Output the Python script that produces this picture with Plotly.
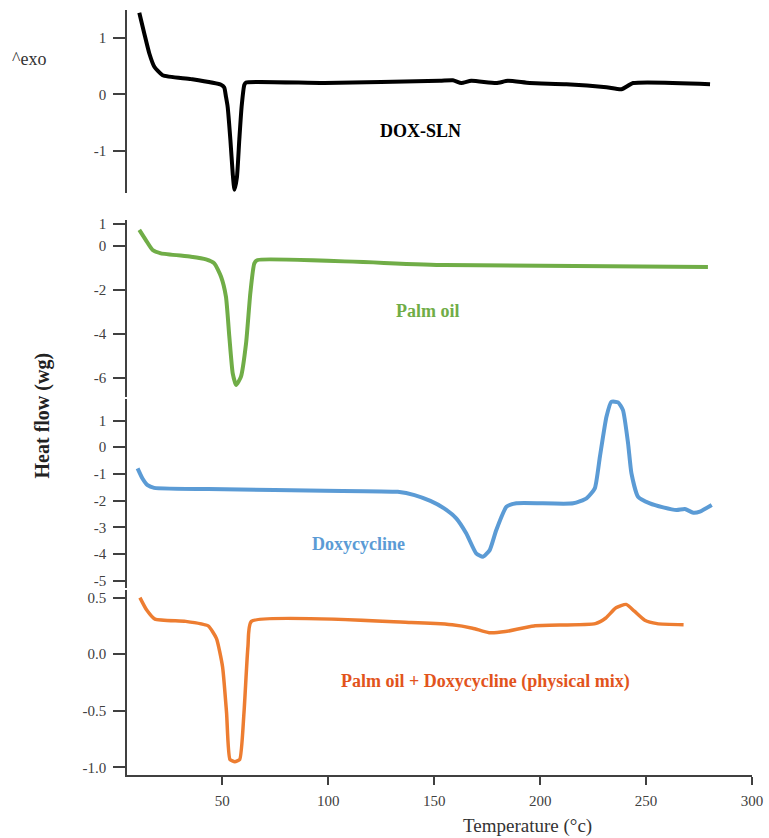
import plotly.graph_objects as go

# ---------------- data ----------------
dox_sln_x = [10.8, 13.1, 15.5, 17.9, 21.8, 35.2, 49.4, 50.9, 51.7, 52.5, 53.8, 54.9, 55.7,
             56.9, 58.0, 59.1, 60.4, 61.2, 98.2, 152.6, 158.8, 162.8, 167.5, 179.3, 184.8,
             195.1, 212.4, 231.3, 238.4, 243.9, 280.2]
dox_sln_y = [1.45, 1.09, 0.73, 0.49, 0.34, 0.27, 0.17, 0.12, -0.04, -0.22, -0.81, -1.41, -1.70,
             -1.47, -0.81, -0.22, 0.17, 0.21, 0.20, 0.24, 0.25, 0.20, 0.24, 0.20, 0.24,
             0.20, 0.18, 0.125, 0.09, 0.20, 0.18]

palm_x = [10.8, 13.9, 17.1, 21.0, 35.2, 42.3, 46.2, 49.4, 51.7, 53.3, 54.9, 56.5, 58.8,
          61.2, 63.2, 65.1, 66.7, 154.9, 279.2]
palm_y = [0.71, 0.25, -0.20, -0.35, -0.50, -0.62, -0.80, -1.41, -2.31, -4.12, -5.78, -6.31, -5.93,
          -4.42, -2.16, -0.80, -0.65, -0.88, -0.97]

doxy_x = [10.0, 12.3, 14.7, 17.8, 50.9, 98.2, 132.8, 140.7, 148.2, 154.5, 160.4, 165.1, 169.8,
          173.0, 176.2, 179.3, 184.1, 188.8, 215.6, 221.9, 225.8, 228.2, 231.3, 233.6, 236.8,
          239.1, 241.5, 243.1, 246.2, 251.8, 258.1, 264.4, 268.3, 272.3, 275.4, 281.0]
doxy_y = [-0.79, -1.17, -1.42, -1.52, -1.57, -1.63, -1.67, -1.79, -2.01, -2.28, -2.66, -3.22, -3.97,
          -4.10, -3.85, -3.10, -2.23, -2.10, -2.10, -1.91, -1.54, -0.36, 1.14, 1.70, 1.68,
          1.39, 0.15, -0.98, -1.85, -2.10, -2.25, -2.35, -2.31, -2.45, -2.41, -2.16]

mix_x = [11.1, 14.3, 18.2, 32.7, 43.3, 47.2, 50.1, 52.0, 53.6, 55.9, 58.2, 60.2, 62.1, 63.7,
         139.1, 158.5, 168.1, 175.9, 183.6, 197.1, 226.1, 231.0, 235.8, 240.6, 244.5, 249.4,
         255.2, 267.7]
mix_y = [0.50, 0.39, 0.31, 0.29, 0.25, 0.14, -0.11, -0.52, -0.93, -0.95, -0.93, -0.52, 0.07, 0.29,
         0.28, 0.26, 0.23, 0.19, 0.20, 0.25, 0.27, 0.32, 0.41, 0.44, 0.38, 0.30,
         0.27, 0.26]

x_ticks = [50, 100, 150, 200, 250, 300]
y1_ticks = [1, 0, -1]
y2_ticks = [1, 0, -2, -4, -6]
y3_ticks = [1, 0, -1, -2, -3, -4, -5]
y4_ticks = [0.5, 0.0, -0.5, -1.0]

series_labels = ["DOX-SLN", "Palm oil", "Doxycycline", "Palm oil + Doxycycline (physical mix)"]
line_colors = ["#000000", "#70AD47", "#5B9BD5", "#ED7D31"]
label_colors = ["#000000", "#70AD47", "#5B9BD5", "#E2541C"]

# ---------------- figure ----------------
SERIF = "Liberation Serif, Times New Roman, serif"
AX = "#404040"

fig = go.Figure()
series = [(dox_sln_x, dox_sln_y, "y"), (palm_x, palm_y, "y2"),
          (doxy_x, doxy_y, "y3"), (mix_x, mix_y, "y4")]
widths = [4, 4, 4, 3.5]
for i, (xs, ys, ya) in enumerate(series):
    fig.add_trace(go.Scatter(x=xs, y=ys, xaxis="x", yaxis=ya, mode="lines",
                             line=dict(color=line_colors[i], width=widths[i],
                                       shape="spline", smoothing=0.5),
                             showlegend=False, hoverinfo="skip"))

def yax(domain, rng, ticks, fmt):
    return dict(domain=domain, range=rng, anchor="x", showline=True, linecolor=AX,
                linewidth=1.5, ticks="outside", ticklen=12, tickwidth=1.5, tickcolor=AX,
                tickvals=ticks, ticktext=[fmt(t) for t in ticks], showgrid=False,
                zeroline=False, ticklabelstandoff=4, automargin=False,
                tickfont=dict(family=SERIF, size=15, color=AX))

fmt_int = lambda v: str(int(v))
fmt_1 = lambda v: f"{v:.1f}"

fig.update_layout(
    width=769, height=838, plot_bgcolor="white", paper_bgcolor="white",
    margin=dict(l=127, r=17, t=10, b=63, autoexpand=False),
    xaxis=dict(domain=[0, 1], range=[5, 300], anchor="y4", showline=True, linecolor=AX,
               linewidth=1.5, ticks="outside", ticklen=8, tickwidth=1.5, tickcolor=AX,
               tickvals=x_ticks, showgrid=False, zeroline=False, ticklabelstandoff=3,
               automargin=False,
               tickfont=dict(family=SERIF, size=15, color=AX)),
    yaxis=yax([0.7608, 1.0], [-1.756, 1.50], y1_ticks, fmt_int),
    yaxis2=yax([0.4941, 0.7255], [-6.85, 1.16], y2_ticks, fmt_int),
    yaxis3=yax([0.2444, 0.4915], [-5.27, 1.805], y3_ticks, fmt_int),
    yaxis4=yax([0.0, 0.2418], [-1.067, 0.567], y4_ticks, fmt_1),
)

label_pos = [(143.6, -0.65, "y"), (146.9, -2.96, "y2"), (114.3, -3.63, "y3"), (174.3, -0.24, "y4")]
for i, (lx, ly, ya) in enumerate(label_pos):
    fig.add_annotation(x=lx, y=ly, xref="x", yref=ya, text=f"<b>{series_labels[i]}</b>",
                       xanchor="center", yanchor="middle",
                       showarrow=False, font=dict(family=SERIF, size=18, color=label_colors[i]))

fig.add_annotation(x=0.641, y=-0.0667, xref="paper", yref="paper", text="Temperature (°c)",
                   xanchor="center", yanchor="middle",
                   showarrow=False, font=dict(family=SERIF, size=19, color="#333333"))
fig.add_annotation(x=-0.136, y=0.47, xref="paper", yref="paper", text="<b>Heat flow (wg)</b>",
                   xanchor="center", yanchor="middle",
                   textangle=-90, showarrow=False, font=dict(family=SERIF, size=20, color="#222222"))
fig.add_annotation(x=-0.157, y=0.936, xref="paper", yref="paper", text="^exo",
                   xanchor="center", yanchor="middle",
                   showarrow=False, font=dict(family=SERIF, size=18, color="#333333"))

fig.write_html("out.html", config={"displayModeBar": False},
               post_script="document.body.style.margin='0';document.body.style.overflow='hidden';")
